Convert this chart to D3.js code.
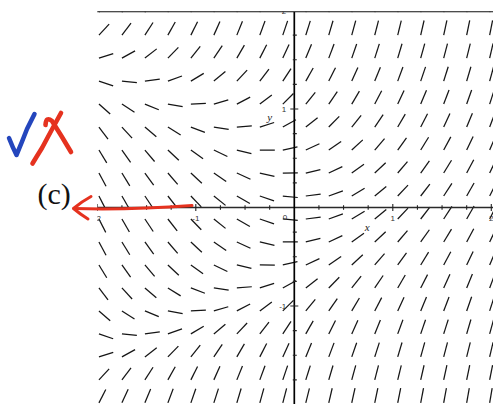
<!DOCTYPE html>
<html><head><meta charset="utf-8">
<script src="https://cdn.jsdelivr.net/npm/d3@7"></script>
<style>html,body{margin:0;padding:0;background:#fff;} svg{display:block}</style>
</head><body>
<svg id="c" width="493" height="404"></svg>
<script>
// grid points of the direction field (data units)
const gridX = [-1.9833,-1.75,-1.5167,-1.2833,-1.05,-0.8167,-0.5833,-0.35,-0.1167,0.1167,0.35,0.5833,0.8167,1.05,1.2833,1.5167,1.75,1.9833];
const gridY = [1.9833,1.75,1.5167,1.2833,1.05,0.8167,0.5833,0.35,0.1167,-0.1167,-0.35,-0.5833,-0.8167,-1.05,-1.2833,-1.5167,-1.75,-1.9833];

// slopes dy/dx read for each row (left to right), by |y|
const slopesY198 = [1.95,2.18,2.42,2.65,2.88,3.12,3.35,3.58,3.82,4.05,4.28,4.52,4.75,4.98,5.22,5.45,5.68,5.92];
const slopesY175 = [1.08,1.31,1.55,1.78,2.01,2.25,2.48,2.71,2.95,3.18,3.41,3.65,3.88,4.11,4.35,4.58,4.81,5.05];
const slopesY152 = [0.32,0.55,0.78,1.02,1.25,1.48,1.72,1.95,2.18,2.42,2.65,2.88,3.12,3.35,3.58,3.82,4.05,4.28];
const slopesY128 = [-0.34,-0.10,0.13,0.36,0.60,0.83,1.06,1.30,1.53,1.76,2.00,2.23,2.46,2.70,2.93,3.16,3.40,3.63];
const slopesY105 = [-0.88,-0.65,-0.41,-0.18,0.05,0.29,0.52,0.75,0.99,1.22,1.45,1.69,1.92,2.15,2.39,2.62,2.85,3.09];
const slopesY082 = [-1.32,-1.08,-0.85,-0.62,-0.38,-0.15,0.08,0.32,0.55,0.78,1.02,1.25,1.48,1.72,1.95,2.18,2.42,2.65];
const slopesY058 = [-1.64,-1.41,-1.18,-0.94,-0.71,-0.48,-0.24,-0.01,0.22,0.46,0.69,0.92,1.16,1.39,1.62,1.86,2.09,2.32];
const slopesY035 = [-1.86,-1.63,-1.39,-1.16,-0.93,-0.69,-0.46,-0.23,0.01,0.24,0.47,0.71,0.94,1.17,1.41,1.64,1.87,2.11];
const slopesY012 = [-1.97,-1.74,-1.50,-1.27,-1.04,-0.80,-0.57,-0.34,-0.10,0.13,0.36,0.60,0.83,1.06,1.30,1.53,1.76,2.00];
const slopeRows = [slopesY198,slopesY175,slopesY152,slopesY128,slopesY105,slopesY082,slopesY058,slopesY035,slopesY012,
                   slopesY012,slopesY035,slopesY058,slopesY082,slopesY105,slopesY128,slopesY152,slopesY175,slopesY198];

const xTickLabels = [-2,-1,1,2];
const yTickLabels = [2,1,-1];
const minorTicks = [-2,-1.75,-1.5,-1.25,-1,-0.75,-0.5,-0.25,0.25,0.5,0.75,1,1.25,1.5,1.75,2];

const svg = d3.select("#c");
const x = d3.scaleLinear().domain([-2,2]).range([97.3,491.3]);
const y = d3.scaleLinear().domain([-2,2]).range([404.5,10.5]);
const L = 15;

svg.append("defs").append("clipPath").attr("id","plot")
  .append("rect").attr("x",97.3).attr("y",11.7).attr("width",400).attr("height",400);

const field = svg.append("g").attr("clip-path","url(#plot)");
const segs = [];
gridY.forEach((gy,i)=>{
  gridX.forEach((gx,j)=>{
    const s = slopeRows[i][j];
    const px = x(gx), py = y(gy);
    const vx = x(gx+1)-x(gx), vy = y(gy+s)-y(gy);
    const n = Math.hypot(vx,vy);
    segs.push({x1:px,y1:py,x2:px+L*vx/n,y2:py+L*vy/n});
  });
});
field.selectAll("line.seg").data(segs).join("line").attr("class","seg")
  .attr("x1",d=>d.x1).attr("y1",d=>d.y1).attr("x2",d=>d.x2).attr("y2",d=>d.y2)
  .attr("stroke","#151515").attr("stroke-width",1.25).attr("stroke-linecap","butt");

// axes
const ax = svg.append("g").attr("clip-path","url(#plot)");
ax.append("line").attr("x1",x(-2)).attr("x2",493).attr("y1",y(0)).attr("y2",y(0))
  .attr("stroke","#2a2a2a").attr("stroke-width",1.4);
ax.append("line").attr("x1",x(0)).attr("x2",x(0)).attr("y1",11.7).attr("y2",404)
  .attr("stroke","#000").attr("stroke-width",1.7);
ax.selectAll("line.xt").data(minorTicks).join("line").attr("class","xt")
  .attr("x1",d=>x(d)).attr("x2",d=>x(d))
  .attr("y1",d=>y(0)-(Number.isInteger(d)?3.5:2.2)).attr("y2",d=>y(0)+(Number.isInteger(d)?3.5:2.2))
  .attr("stroke","#222").attr("stroke-width",1.1);
ax.selectAll("line.yt").data(minorTicks).join("line").attr("class","yt")
  .attr("y1",d=>y(d)).attr("y2",d=>y(d))
  .attr("x1",d=>x(0)-(Number.isInteger(d)?4:1.5)).attr("x2",d=>x(0)+(Number.isInteger(d)?4:2.5))
  .attr("stroke","#222").attr("stroke-width",1.1);

// top frame line
svg.append("line").attr("x1",97.3).attr("x2",493).attr("y1",11.7).attr("y2",11.7)
  .attr("stroke","#111").attr("stroke-width",1.1);

// tick labels
const tl = svg.append("g").attr("clip-path","url(#plot)")
  .attr("font-family","Liberation Sans, Arial, sans-serif").attr("font-size",8).attr("fill","#333");
tl.selectAll("text.xl").data(xTickLabels).join("text").attr("class","xl")
  .attr("x",d=>x(d)).attr("y",y(0)+13).attr("text-anchor","middle").text(d=>d<0?"-"+Math.abs(d):d);
tl.selectAll("text.yl").data(yTickLabels).join("text").attr("class","yl")
  .attr("x",x(0)-8).attr("y",d=>y(d)+3).attr("text-anchor","end").text(d=>d<0?"-"+Math.abs(d):d);
tl.append("text").attr("x",x(0)-7).attr("y",y(0)+12).attr("text-anchor","end").text("0");

// axis names
const an = svg.append("g").attr("font-family","Liberation Serif, Times New Roman, serif")
  .attr("font-style","italic").attr("font-size",11).attr("fill","#222");
an.append("text").attr("x",x(0.74)).attr("y",y(-0.24)).attr("text-anchor","middle").text("x");
an.append("text").attr("x",x(-0.25)).attr("y",y(0.88)).attr("text-anchor","middle").text("y");

// handwritten annotations
const red = "#e5321f", blue = "#2446bd";
svg.append("path").attr("d","M9,138 Q12.5,147 16.5,155 Q22,142 27,129 Q31,121 34.5,114")
  .attr("fill","none").attr("stroke",blue).attr("stroke-width",4.5).attr("stroke-linecap","round").attr("stroke-linejoin","round");
svg.append("path").attr("d","M45.5,125 Q46,116 52,121 Q61,135 71,152")
  .attr("fill","none").attr("stroke",red).attr("stroke-width",4.6).attr("stroke-linecap","round");
svg.append("path").attr("d","M61,113 Q51,131 42,148 Q37,156 32.5,163.5")
  .attr("fill","none").attr("stroke",red).attr("stroke-width",4.6).attr("stroke-linecap","round");
svg.append("text").attr("x",37.5).attr("y",204).attr("font-family","Liberation Serif, Times New Roman, serif")
  .attr("font-size",30).attr("fill","#111").text("(c)");
svg.append("path").attr("d","M74,208.5 Q130,210 192,205.5")
  .attr("fill","none").attr("stroke",red).attr("stroke-width",3).attr("stroke-linecap","round");
svg.append("path").attr("d","M91,196.5 Q81,202 73.5,208.5 Q80,214 88,219")
  .attr("fill","none").attr("stroke",red).attr("stroke-width",3).attr("stroke-linecap","round").attr("stroke-linejoin","round");
</script>
</body></html>
